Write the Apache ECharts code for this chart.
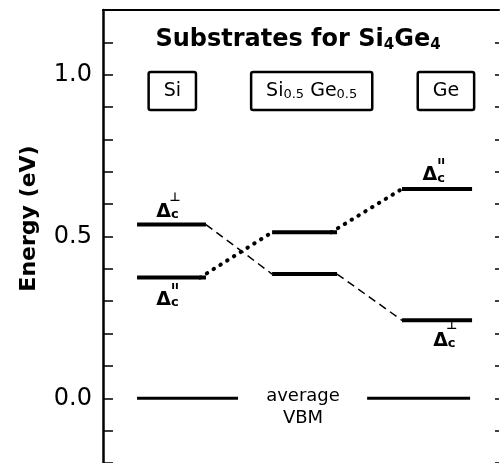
<!DOCTYPE html>
<html>
<head>
<meta charset="utf-8">
<script src="https://cdn.jsdelivr.net/npm/echarts@6/dist/echarts.min.js"></script>
<style>
  html, body { margin: 0; padding: 0; background: #fff; }
  #chart { width: 500px; height: 463px; }
</style>
</head>
<body>
<div id="chart"></div>
<script>
// substrates and conduction band offsets (eV)
var substrates = ['Si', 'Si0.5 Ge0.5', 'Ge']
var perpLevels = [0.537, 0.384, 0.241]
var parLevels = [0.373, 0.513, 0.647]
var vbmLevel = 0
var tickLabels = ['0.0', '0.5', '1.0']

// horizontal layout (x axis units 0..100)
var levelStart = [8.6, 42.7, 75.5]
var levelEnd = [26.0, 59.1, 93.2]
var vbmSpans = [[8.6, 34.1], [66.7, 92.7]]
var boxX = [17.5, 52.7, 86.6]
var boxY = 0.95

var font = "'DejaVu Sans', 'Liberation Sans', Arial, sans-serif"
var ink = '#000'

var labelRich = {
  s: { fontSize: 12, fontWeight: 'bold', color: ink, fontFamily: font, lineHeight: 10, padding: [0, 0, 0, 15] },
  p: { fontSize: 11, fontWeight: 'bold', color: ink, fontFamily: font, lineHeight: 9, padding: [0, 0, 0, 15] },
  d: { fontSize: 19, fontWeight: 'bold', color: ink, fontFamily: font, lineHeight: 19 },
  c: { fontSize: 13, fontWeight: 'bold', color: ink, fontFamily: font, lineHeight: 11, verticalAlign: 'bottom' },
  v: { fontSize: 18, color: ink, fontFamily: font, lineHeight: 22, align: 'center' }
}

function deltaLabel(kind) {
  var sup = kind === 'perp' ? '{s|⊥}' : '{p|ıı}'
  return sup + '\n{d|Δ}{c|c}'
}

var series = []

// level bars
substrates.forEach(function(name, i) {
  ;[perpLevels, parLevels].forEach(function(levels) {
    series.push({
      type: 'line',
      symbol: 'none',
      silent: true,
      lineStyle: { color: ink, width: 4 },
      data: [[levelStart[i], levels[i]], [levelEnd[i], levels[i]]]
    })
  })
})

// connectors: perpendicular dashed, parallel dotted
for (var i = 0; i < substrates.length - 1; i++) {
  series.push({
    type: 'line',
    symbol: 'none',
    silent: true,
    lineStyle: { color: ink, width: 1.5, type: [8, 5] },
    data: [[levelEnd[i], perpLevels[i]], [levelStart[i + 1], perpLevels[i + 1]]]
  })
  series.push({
    type: 'line',
    symbol: 'none',
    silent: true,
    lineStyle: { color: ink, width: 4, type: [0.5, 7.5], cap: 'round' },
    data: [[levelEnd[i] - 1.5, parLevels[i]], [levelStart[i + 1], parLevels[i + 1]]]
  })
}

// average VBM
vbmSpans.forEach(function(span) {
  series.push({
    type: 'line',
    symbol: 'none',
    silent: true,
    lineStyle: { color: ink, width: 3 },
    data: [[span[0], vbmLevel], [span[1], vbmLevel]]
  })
})

// text labels
series.push({
  type: 'scatter',
  symbolSize: 0,
  silent: true,
  itemStyle: { opacity: 1 },
  data: [
    { value: [16.3, perpLevels[0]], label: { position: 'top', distance: 3, formatter: deltaLabel('perp') } },
    { value: [16.3, parLevels[0]], label: { position: 'bottom', distance: 4, formatter: deltaLabel('par') } },
    { value: [83.5, parLevels[2]], label: { position: 'top', distance: 4, formatter: deltaLabel('par') } },
    { value: [86.2, perpLevels[2]], label: { position: 'bottom', distance: 1, formatter: deltaLabel('perp') } },
    { value: [50.5, vbmLevel], label: { position: 'inside', offset: [0, 9], formatter: '{v|average}\n{v|VBM}' } }
  ],
  label: {
    show: true,
    color: ink,
    textBorderWidth: 0,
    rich: labelRich
  }
})

// substrate boxes
series.push({
  type: 'scatter',
  symbolSize: 0,
  silent: true,
  itemStyle: { opacity: 1 },
  data: substrates.map(function(name, i) {
    var text = name.split(' ').map(function(p) {
      var m = p.match(/^([A-Za-z]+)([0-9.]*)$/)
      return '{n|' + m[1] + '}' + (m[2] ? '{u|' + m[2] + '}' : '')
    }).join('{n| }')
    return { value: [boxX[i], boxY], label: { formatter: text } }
  }),
  label: {
    show: true,
    position: 'inside',
    color: ink,
    textBorderWidth: 0,
    borderColor: ink,
    borderWidth: 2.5,
    borderRadius: 2,
    padding: [9, 15, 9, 15],
    rich: {
      n: { fontSize: 19, color: ink, fontFamily: font, lineHeight: 20 },
      u: { fontSize: 13, color: ink, fontFamily: font, lineHeight: 12, verticalAlign: 'bottom' }
    }
  }
})

var myChart = echarts.init(document.getElementById('chart'), null, { renderer: 'canvas' })

var option = {
  animation: false,
  backgroundColor: '#fff',
  title: {
    text: '{t|Substrates for Si}{u|4}{t|Ge}{u|4}',
    left: 293,
    top: 21,
    textAlign: 'center',
    textStyle: {
      rich: {
        t: { fontSize: 24, fontWeight: 'bold', color: ink, fontFamily: font, lineHeight: 27 },
        u: { fontSize: 15, fontWeight: 'bold', color: ink, fontFamily: font, lineHeight: 16, verticalAlign: 'bottom' }
      }
    }
  },
  grid: { left: 103, right: 1, top: 10, bottom: 0, containLabel: false, outerBoundsMode: 'none' },
  xAxis: {
    type: 'value',
    min: 0,
    max: 100,
    position: 'top',
    axisLine: { show: true, onZero: false, lineStyle: { color: ink, width: 2 } },
    axisTick: { show: false },
    axisLabel: { show: false },
    splitLine: { show: false }
  },
  yAxis: [
    {
      type: 'value',
      min: -0.2,
      max: 1.2,
      interval: 0.1,
      name: 'Energy (eV)',
      nameLocation: 'middle',
      nameGap: 63,
      nameTextStyle: { fontSize: 22, fontWeight: 'bold', color: ink, fontFamily: font, padding: [0, 0, 0, 36] },
      axisLine: { show: true, lineStyle: { color: ink, width: 2.5 } },
      axisTick: { show: true, inside: true, length: 10, lineStyle: { color: ink, width: 1.5 } },
      axisLabel: {
        margin: 11,
        fontSize: 24,
        color: ink,
        fontFamily: font,
        formatter: function(v) {
          var s = v.toFixed(1)
          return tickLabels.indexOf(s) >= 0 ? s : ''
        }
      },
      splitLine: { show: false }
    },
    {
      type: 'value',
      min: -0.2,
      max: 1.2,
      interval: 0.1,
      position: 'right',
      axisLine: { show: false },
      axisTick: { show: true, inside: true, length: 4, lineStyle: { color: ink, width: 1.5 } },
      axisLabel: { show: false },
      splitLine: { show: false }
    }
  ],
  series: series
}

myChart.setOption(option)
</script>
</body>
</html>
